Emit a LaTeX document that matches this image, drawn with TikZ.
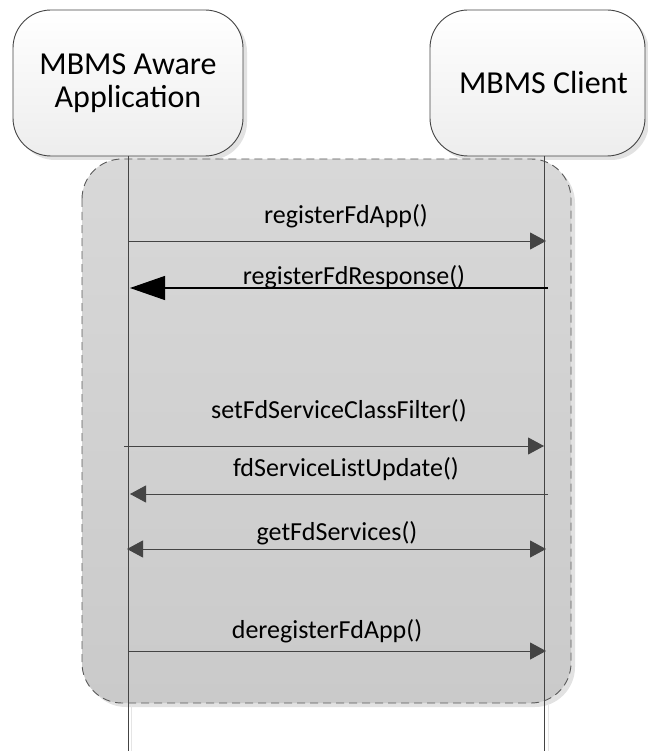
\documentclass[tikz,border=0pt]{standalone}
\usepackage{fontspec}
\setmainfont{Carlito}
\usetikzlibrary{arrows.meta,shadows}
\definecolor{linegray}{HTML}{444444}
\definecolor{dashgray}{HTML}{5A5A5A}
\definecolor{regtop}{HTML}{D8D8D8}
\definecolor{regbot}{HTML}{CACACA}
\definecolor{shadowgray}{HTML}{E2E2E2}
\tikzset{
  actor/.style={draw=linegray, line width=0.9pt, rounded corners=38pt,
    top color=white, bottom color=black!7, align=center, inner sep=0pt,
    font=\fontsize{32}{37}\selectfont,
    drop shadow={shadow xshift=4pt, shadow yshift=-4pt, fill=shadowgray, opacity=1}},
  region/.style={draw=dashgray, line width=0.9pt, dash pattern=on 8pt off 5pt,
    rounded corners=40pt, top color=regtop, bottom color=regbot,
    drop shadow={shadow xshift=4pt, shadow yshift=-4pt, fill=shadowgray, opacity=1}},
  lifeline/.style={draw=linegray, line width=0.8pt},
  lifeshadow/.style={draw=black!10, line width=0.8pt},
  msg/.style={draw=linegray, line width=1pt, -{Triangle[length=16pt, width=17pt]}},
  msgboth/.style={draw=linegray, line width=1pt, {Triangle[length=16pt, width=17pt]}-{Triangle[length=16pt, width=17pt]}},
  reply/.style={draw=black, line width=1.2pt, -{Triangle[length=35pt, width=24pt]}},
  lbl/.style={anchor=base, inner sep=0pt, font=\fontsize{26}{30}\selectfont}
}
\begin{document}
\begin{tikzpicture}[x=1pt, y=-1pt]
\useasboundingbox (0,0) rectangle (647,751);
% participants
\node[actor, minimum width=230pt, minimum height=146pt] (app) at (128,83) {MBMS Aware\\[-4pt]Application};
\node[actor, minimum width=215pt, minimum height=146pt] (cli) at (537.5,83) {\hspace*{12pt}MBMS Client};
% combined fragment region
\path[region] (82,159) rectangle (571,703);
% lifelines
\coordinate (appTop) at (128,156);
\coordinate (appBot) at (128,751);
\coordinate (cliTop) at (544,156);
\coordinate (cliBot) at (544,751);
\coordinate (appSh1) at (131,705);
\coordinate (appSh2) at (131,751);
\coordinate (cliSh1) at (548,705);
\coordinate (cliSh2) at (548,751);
\draw[lifeshadow] (appSh1) -- (appSh2);
\draw[lifeshadow] (cliSh1) -- (cliSh2);
\draw[lifeline] (appTop) -- (appBot);
\draw[lifeline] (cliTop) -- (cliBot);
% message end points
\coordinate (a1) at (128,241); \coordinate (c1) at (546,241);
\coordinate (c2) at (548,288); \coordinate (a2) at (130,288);
\coordinate (a3) at (124,446); \coordinate (c3) at (544,446);
\coordinate (c4) at (548,494); \coordinate (a4) at (130,494);
\coordinate (a5) at (127,549); \coordinate (c5) at (546,549);
\coordinate (a6) at (128,651); \coordinate (c6) at (546,651);
% messages
\draw[msg] (a1) -- (c1);
\draw[reply] (c2) -- (a2);
\draw[msg] (a3) -- (c3);
\draw[msg] (c4) -- (a4);
\draw[msgboth] (a5) -- (c5);
\draw[msg] (a6) -- (c6);
% labels
\node[lbl] (l1) at (346,223) {registerFdApp()};
\node[lbl] (l2) at (354,284) {registerFdResponse()};
\node[lbl] (l3) at (339,418) {setFdServiceClassFilter()};
\node[lbl] (l4) at (346,476) {fdServiceListUpdate()};
\node[lbl] (l5) at (337,540) {getFdServices()};
\node[lbl] (l6) at (327,638) {deregisterFdApp()};
\end{tikzpicture}
\end{document}
